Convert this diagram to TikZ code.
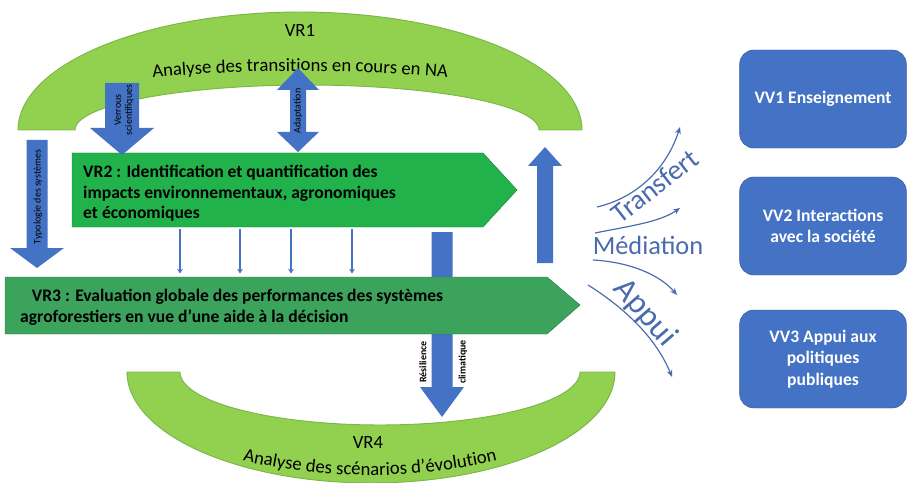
\documentclass[tikz,border=0pt]{standalone}
\usepackage{fontspec}
\setmainfont{Carlito}
\usetikzlibrary{arrows.meta,decorations.text}
\definecolor{vertclair}{HTML}{92D050}
\definecolor{vertbord}{HTML}{7AB648}
\definecolor{vertvif}{HTML}{22B24C}
\definecolor{vertfonce}{HTML}{3CA35D}
\definecolor{bleu}{HTML}{4472C4}
\definecolor{bleuarc}{HTML}{4A6AAE}
\newcommand{\taille}[2]{\fontsize{#1}{#2}\selectfont}
\newcommand{\arche}[8]{\filldraw[arche] plot[domain=180:0,samples=80] ({#1+#3*cos(\x)},{#2-(#8)*#4*sin(\x)})
	-- plot[domain=0:180,samples=80] ({#5+#6*cos(\x)},{#2-(#8)*#7*sin(\x)}) -- cycle}
\newcommand{\flechebas}[6]{\fill[bleu] (#1-#2,#4) -- (#1+#2,#4) -- (#1+#2,#5) -- (#1+#3,#5)
	-- (#1,#6) -- (#1-#3,#5) -- (#1-#2,#5) -- cycle}
\newcommand{\flechedouble}[7]{\fill[bleu] (#1,#4) -- (#1+#3,#5) -- (#1+#2,#5) -- (#1+#2,#6) -- (#1+#3,#6)
	-- (#1,#7) -- (#1-#3,#6) -- (#1-#2,#6) -- (#1-#2,#5) -- (#1-#3,#5) -- cycle}

\begin{document}
\begin{tikzpicture}[x=0.03cm,y=-0.03cm,
	arche/.style={fill=vertclair,draw=vertbord,line width=0.8pt},
	titre/.style={font=\taille{16}{19}},
	gras/.style={font=\bfseries\taille{15}{17.5},align=left,anchor=north west,inner sep=0pt},
	mini/.style={font=\taille{8.5}{9.5},rotate=90,align=center,inner sep=0pt},
	fine/.style={bleu,line width=1.5pt,-{Stealth[length=4pt,width=5pt]}},
	courbe/.style={bleuarc,line width=1pt,-{Stealth[length=6pt,width=5pt]}},
	mot/.style={text=bleuarc,font=\taille{24}{28}},
	vv/.style={fill=bleu,draw=bleu!80!black,rounded corners=12pt,minimum width=5cm,
		minimum height=2.94cm,text=white,font=\bfseries\taille{15}{18.5},align=center}]
	\useasboundingbox (0,0) rectangle (909,483);
%Les arches
	\arche{300}{130}{282}{118}{307}{232}{45}{1};
	\arche{371}{372}{244}{111}{380}{200}{53}{-1};
	\node[titre] (vrun) at (300,30) {VR1};
	\path[decorate,decoration={text along path,text align=center,
		text={|\taille{16}{19}|Analyse des transitions en cours en NA}}]
		(130,80) .. controls (240,68) and (360,68) .. (470,80);
	\node[titre] (vrquatre) at (368,442) {VR4};
	\path[decorate,decoration={text along path,text align=center,
		text={|\taille{16}{19}|Analyse des scénarios d’évolution}}]
		(220,455) .. controls (320,482) and (420,482) .. (520,455);
%VR2
	\filldraw[fill=vertvif,draw=vertvif!75!black] (72,153) -- (483,153) -- (517,190)
		-- (483,227) -- (72,227) coordinate (bg2) -- cycle;
	\node[gras] (vrdeux) at (83,165) {VR2 : Identification et quantification des\\
		impacts environnementaux, agronomiques\\et économiques};
%Les fleches bleues
	\flechebas{122}{17}{32}{83}{128}{155};
	\node[mini] (verrous) at (124,110) {Verrous\\scientifiques};
	\flechedouble{298}{8}{21}{68}{90}{132}{152};
	\node[mini] (adaptation) at (298,111) {Adaptation};
	\flechebas{37}{10.5}{27}{140}{248}{268};
	\node[mini] (typologie) at (38,197) {Typologie des systèmes};
	\flechebas{442}{10.5}{22}{232}{387}{417};
	\node[mini,font=\bfseries\taille{8.5}{9.5}] (resilience) at (423,362) {Résilience};
	\node[mini,font=\bfseries\taille{8.5}{9.5}] (climatique) at (463,362) {climatique};
	\flechebas{545}{8}{17}{263}{166}{147};
%VR3
	\filldraw[fill=vertfonce,draw=vertfonce!75!black] (5,277) coordinate (hg3) -- (547,277)
		-- (580,305) -- (547,334) -- (5,334) -- cycle;
	\node[gras,font=\bfseries\taille{15}{18}] (vrtrois) at (20,289)
		{\hspace*{10pt}VR3 : Evaluation globale des performances des systèmes\\
		agroforestiers en vue d’une aide à la décision};
	\foreach \d in {180,240,291,352}
		\draw[fine,shorten <=2pt,shorten >=3pt] (bg2 -| \d,0) -- (hg3 -| \d,0);
%Transfert, mediation, appui
	\draw[courbe] (597,207) .. controls (640,197) and (668,165) .. (680,127);
	\draw[courbe] (595,233) .. controls (630,226) and (660,222) .. (680,208);
	\draw[courbe] (593,260) .. controls (630,262) and (660,275) .. (677,295);
	\draw[courbe] (588,285) .. controls (620,305) and (655,335) .. (672,377);
	\node[mot,rotate=38] (transfert) at (655,186) {Transfert};
	\node[mot,font=\taille{22.5}{26}] (mediation) at (648,245) {Médiation};
	\node[mot,font=\taille{28}{32},rotate=-49] (appui) at (645,313) {Appui};
%Les valorisations
	\node[vv] (vvun) at (823,99) {VV1 Enseignement};
	\node[vv] (vvdeux) at (823,226) {VV2 Interactions\\avec la société};
	\node[vv] (vvtrois) at (823,359) {VV3 Appui aux\\politiques\\publiques};
\end{tikzpicture}
\end{document}
